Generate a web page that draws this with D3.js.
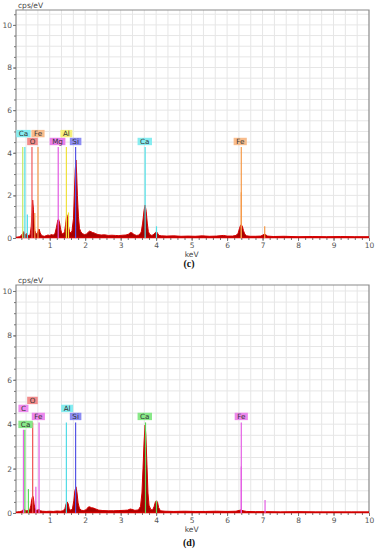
<!DOCTYPE html>
<html>
<head>
<meta charset="utf-8">
<script src="https://cdn.jsdelivr.net/npm/d3@7/dist/d3.min.js"></script>
<style>
  body { margin: 0; background: #fff; }
  svg { display: block; }
  text { font-family: "DejaVu Sans", Verdana, sans-serif; }
</style>
</head>
<body>
<div id="chart"></div>
<script>
// ---- panel (c) spectrum, keV vs cps/eV
var cEnergy = [0.05,0.10,0.15,0.20,0.24,0.27,0.30,0.33,0.36,0.39,0.42,0.45,0.48,0.50,0.52,0.54,0.56,0.58,0.61,0.64,
  0.67,0.70,0.73,0.76,0.80,0.85,0.90,0.95,1.00,1.05,1.10,1.15,1.19,1.23,1.25,1.28,1.31,1.34,1.38,1.42,
  1.45,1.48,1.50,1.53,1.56,1.60,1.63,1.67,1.70,1.72,1.74,1.76,1.78,1.81,1.84,1.88,1.93,1.98,2.03,2.08,
  2.12,2.16,2.20,2.25,2.30,2.36,2.45,2.55,2.65,2.75,2.85,2.95,3.05,3.15,3.22,3.28,3.32,3.38,3.45,3.52,
  3.58,3.62,3.66,3.69,3.72,3.75,3.78,3.82,3.88,3.94,3.98,4.01,4.04,4.08,4.15,4.30,4.50,4.70,4.90,5.10,
  5.30,5.50,5.70,5.90,6.00,6.15,6.25,6.31,6.35,6.38,6.40,6.43,6.46,6.50,6.55,6.65,6.80,6.95,7.01,7.05,
  7.09,7.14,7.30,7.60,8.00,8.40,8.80,9.20,9.60,10.0];
var cCounts = [0.02,0.04,0.06,0.12,0.22,0.30,0.18,0.14,0.22,0.12,0.10,0.18,0.55,1.20,1.78,1.35,0.70,0.35,0.22,0.18,
  0.30,0.42,0.25,0.14,0.10,0.08,0.11,0.14,0.12,0.16,0.13,0.22,0.50,0.85,0.88,0.70,0.40,0.22,0.18,0.30,
  0.65,1.10,1.00,0.55,0.30,0.22,0.35,0.90,2.30,3.20,3.66,3.00,2.00,1.00,0.45,0.28,0.20,0.16,0.18,0.26,
  0.32,0.30,0.26,0.24,0.20,0.16,0.14,0.15,0.12,0.13,0.12,0.11,0.13,0.14,0.18,0.26,0.24,0.16,0.12,0.14,
  0.28,0.70,1.30,1.55,1.25,0.70,0.30,0.16,0.12,0.18,0.26,0.30,0.22,0.12,0.10,0.09,0.10,0.08,0.09,0.08,
  0.10,0.08,0.09,0.12,0.09,0.09,0.12,0.22,0.45,0.60,0.62,0.55,0.35,0.18,0.10,0.08,0.08,0.09,0.14,0.18,
  0.15,0.09,0.07,0.08,0.06,0.07,0.06,0.07,0.06,0.06];
// element marker lines: [element, keV, height in cps/eV]
var cLines = [["C",0.24,4.27],["Ca",0.30,4.27],["Ca",0.37,1.10],["O",0.50,4.27],["Fe",0.58,1.17],["Fe",0.67,4.27],
  ["Mg",1.24,4.27],["Al",1.47,4.27],["Al",1.53,1.20],["Si",1.73,4.27],["Ca",3.69,4.27],["Ca",4.01,0.55],
  ["Fe",6.40,4.27],["Fe",6.40,2.15],["Fe",7.06,0.55]];
// labels: [element, keV, level in cps/eV]
var cTags = [["Ca",0.26,4.90],["Fe",0.67,4.90],["O",0.515,4.53],["Mg",1.22,4.53],["Al",1.47,4.90],
  ["Si",1.73,4.53],["Ca",3.68,4.53],["Fe",6.37,4.53]];

// ---- panel (d)
var dEnergy = [0.05,0.10,0.15,0.20,0.25,0.28,0.31,0.35,0.40,0.44,0.47,0.50,0.52,0.54,0.56,0.59,0.63,0.67,0.70,0.74,
  0.80,0.90,1.00,1.10,1.20,1.30,1.38,1.43,1.46,1.49,1.52,1.55,1.59,1.64,1.68,1.71,1.74,1.77,1.80,1.84,
  1.90,1.96,2.03,2.08,2.12,2.18,2.24,2.30,2.38,2.50,2.65,2.80,2.95,3.10,3.20,3.27,3.32,3.40,3.50,3.56,
  3.60,3.63,3.66,3.69,3.71,3.74,3.77,3.80,3.85,3.90,3.94,3.98,4.01,4.04,4.07,4.12,4.25,4.50,4.80,5.10,
  5.40,5.70,6.00,6.25,6.35,6.40,6.45,6.55,6.80,7.10,7.50,8.00,8.50,9.00,9.50,10.0];
var dCounts = [0.03,0.05,0.06,0.08,0.14,0.16,0.12,0.10,0.11,0.15,0.35,0.65,0.77,0.70,0.40,0.18,0.12,0.14,0.16,0.10,
  0.08,0.07,0.08,0.07,0.09,0.08,0.10,0.20,0.40,0.50,0.42,0.20,0.12,0.18,0.55,1.00,1.18,0.90,0.45,0.20,
  0.12,0.11,0.15,0.26,0.28,0.24,0.22,0.18,0.13,0.11,0.10,0.10,0.11,0.12,0.13,0.18,0.16,0.12,0.14,0.30,
  0.90,2.00,3.20,3.96,3.50,2.20,0.90,0.35,0.15,0.14,0.28,0.50,0.55,0.48,0.25,0.10,0.08,0.07,0.08,0.07,
  0.07,0.08,0.07,0.08,0.12,0.14,0.10,0.07,0.06,0.06,0.05,0.06,0.05,0.05,0.05,0.05];
var dLines = [["C",0.26,3.75],["Ca",0.30,3.75],["Ca",0.40,1.08],["O",0.52,4.08],["Fe",0.61,1.18],["Fe",0.70,4.08],
  ["Al",1.47,4.08],["Si",1.73,4.08],["Ca",3.70,4.08],["Ca",4.01,0.54],["Fe",6.40,4.08],["Fe",6.40,2.09],["Fe",7.07,0.59]];
var dTags = [["O",0.515,5.07],["C",0.26,4.71],["Al",1.49,4.71],["Fe",0.68,4.35],["Si",1.73,4.35],
  ["Ca",3.68,4.35],["Fe",6.40,4.35],["Ca",0.32,3.99]];

var xTicks = [1,2,3,4,5,6,7,8,9,10];
var yTicks = [0,2,4,6,8,10];

// colours per panel (line, label box)
var cColors = {C:"#c4e860", Ca:"#4fe0e8", O:"#f05a5a", Fe:"#f59a48", Mg:"#e25ae2", Al:"#f0e23a", Si:"#5656e4"};
var cBoxes  = {Ca:"#86ecf0", O:"#f28c8c", Fe:"#f8bc8c", Mg:"#ea80ea", Al:"#f6f07a", Si:"#8c8cf2"};
var dColors = {C:"#e862e8", Ca:"#5cd85c", O:"#f05050", Fe:"#e45ee4", Al:"#50dce6", Si:"#5656e4"};
var dBoxes  = {C:"#f08cf0", Ca:"#88e888", O:"#f28c8c", Fe:"#ec88ec", Al:"#86ecf0", Si:"#8c8cf2"};

var W = 377, H = 550;
var svg = d3.select("#chart").append("svg").attr("width", W).attr("height", H);

function drawPanel(p) {
  var x = d3.scaleLinear().domain([0.05, 10]).range([16, 369]);
  var y = d3.scaleLinear().domain([0, p.ymax]).range([p.bottom, p.top]);
  var g = svg.append("g");

  // grid
  var vg = d3.range(1, 30).map(function (i) { return i / 3; });
  g.selectAll(".vg").data(vg).enter().append("line")
    .attr("x1", function (d) { return x(d); }).attr("x2", function (d) { return x(d); })
    .attr("y1", p.top).attr("y2", p.bottom)
    .attr("stroke", "#e6e6e6").attr("stroke-width", 1);
  var hg = d3.range(1, Math.floor(p.ymax * 2) + 1).map(function (i) { return i / 2; });
  g.selectAll(".hg").data(hg).enter().append("line")
    .attr("x1", 16).attr("x2", 369)
    .attr("y1", function (d) { return y(d); }).attr("y2", function (d) { return y(d); })
    .attr("stroke", "#e6e6e6").attr("stroke-width", 1);

  // frame
  g.append("path")
    .attr("d", "M16," + p.bottom + "V" + p.top + "H369V" + p.bottom)
    .attr("fill", "none").attr("stroke", "#8a8a8a").attr("stroke-width", 1.2);

  // axes
  var yMinor = g.append("g").attr("transform", "translate(16,0)")
    .call(d3.axisLeft(y).tickValues(hg).tickSize(2).tickFormat(""));
  var yAx = g.append("g").attr("transform", "translate(16,0)")
    .call(d3.axisLeft(y).tickValues(yTicks).tickSize(3).tickPadding(1));
  var xMinor = g.append("g").attr("transform", "translate(0," + p.bottom + ")")
    .call(d3.axisBottom(x).tickValues(d3.range(1, 50).map(function (i) { return i / 5; })).tickSize(2).tickFormat(""));
  var xAx = g.append("g").attr("transform", "translate(0," + p.bottom + ")")
    .call(d3.axisBottom(x).tickValues(xTicks).tickSize(3).tickPadding(2));
  [yMinor, yAx, xMinor, xAx].forEach(function (a) {
    a.select(".domain").remove();
    a.selectAll("line").attr("stroke", "#777");
    a.selectAll("text").style("font-size", "7.5px").attr("fill", "#555")
      .style("font-family", "'DejaVu Sans', Verdana, sans-serif");
  });

  // spectrum
  var pts = p.energy.map(function (e, i) { return [e, p.counts[i]]; });
  var area = d3.area().x(function (d) { return x(d[0]); }).y0(y(0)).y1(function (d) { return y(d[1]); });
  var line = d3.line().x(function (d) { return x(d[0]); }).y(function (d) { return y(d[1]); });
  g.append("path").datum(pts).attr("d", area).attr("fill", "#a80000");
  g.append("path").datum(pts).attr("d", line).attr("fill", "none").attr("stroke", "#d80000").attr("stroke-width", 1);
  g.append("line").attr("x1", 16).attr("x2", 369).attr("y1", p.bottom - 0.5).attr("y2", p.bottom - 0.5)
    .attr("stroke", "#d00000").attr("stroke-width", 1.6);

  // element lines
  g.selectAll(".el").data(p.lines).enter().append("line")
    .attr("x1", function (d) { return x(d[1]); }).attr("x2", function (d) { return x(d[1]); })
    .attr("y1", function (d) { return y(d[2]); }).attr("y2", y(0))
    .attr("stroke", function (d) { return p.colors[d[0]]; })
    .attr("stroke-width", 1.2);

  // element tags
  var tg = g.selectAll(".tag").data(p.tags).enter().append("g")
    .attr("transform", function (d) { return "translate(" + x(d[1]) + "," + y(d[2]) + ")"; });
  var rects = tg.append("rect").attr("y", -3.7).attr("height", 7.4)
    .attr("fill", function (d) { return p.boxes[d[0]]; });
  var labels = tg.append("text").text(function (d) { return d[0]; })
    .attr("text-anchor", "middle").attr("y", 2.6)
    .style("font-size", "7.2px").attr("fill", "#333");
  labels.each(function (d, i) {
    var w = this.getComputedTextLength() + 5;
    d3.select(rects.nodes()[i]).attr("x", -w / 2).attr("width", w);
  });

  // titles
  g.append("text").text("cps/eV").attr("x", 18).attr("y", p.top - 2)
    .style("font-size", "7.5px").attr("fill", "#444");
  g.append("text").text("keV").attr("x", x(5)).attr("y", p.bottom + 19)
    .attr("text-anchor", "middle").style("font-size", "7.5px").attr("fill", "#444");
  g.append("text").text(p.caption).attr("x", 189).attr("y", p.capY)
    .attr("text-anchor", "middle").style("font-family", "'Liberation Serif', serif")
    .style("font-size", "10px").style("font-weight", "bold").attr("fill", "#111");
}

drawPanel({top: 10, bottom: 238, ymax: 10.7, energy: cEnergy, counts: cCounts,
  lines: cLines, tags: cTags, colors: cColors, boxes: cBoxes, caption: "(c)", capY: 267});
drawPanel({top: 285, bottom: 513, ymax: 10.27, energy: dEnergy, counts: dCounts,
  lines: dLines, tags: dTags, colors: dColors, boxes: dBoxes, caption: "(d)", capY: 546});
</script>
</body>
</html>
